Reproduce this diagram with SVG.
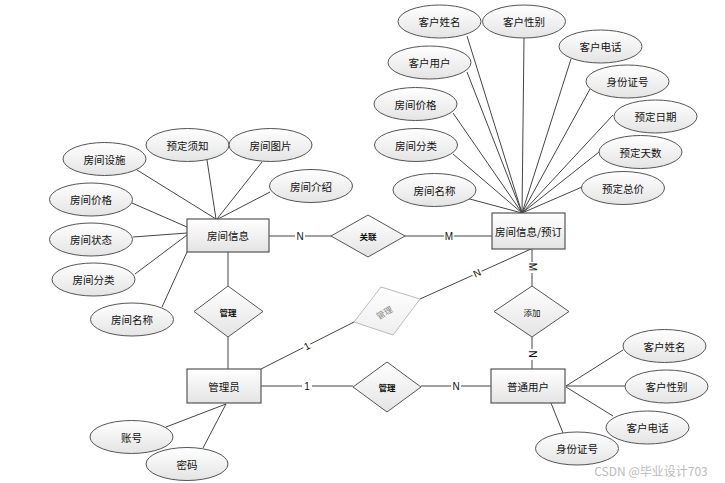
<svg xmlns="http://www.w3.org/2000/svg" width="725" height="483" viewBox="0 0 725 483">
<defs>
<linearGradient id="g" x1="0" y1="0" x2="0" y2="1">
<stop offset="0" stop-color="#ffffff"/>
<stop offset="1" stop-color="#e4e4e4"/>
</linearGradient>
<linearGradient id="gf" x1="0" y1="0" x2="0" y2="1">
<stop offset="0" stop-color="#ffffff"/>
<stop offset="1" stop-color="#eeeeee"/>
</linearGradient>
</defs>
<style>
.e{fill:url(#g);stroke:#555;stroke-width:1}
.r{fill:url(#g);stroke:#555;stroke-width:1.2}
.d{fill:url(#g);stroke:#555;stroke-width:1}
.t{font-family:"Noto Sans CJK SC","Liberation Sans",sans-serif;font-size:10.5px;fill:#111;text-anchor:middle;dominant-baseline:central}
.s{font-family:"Noto Sans CJK SC","Liberation Sans",sans-serif;font-size:8.5px;font-weight:bold;fill:#111;text-anchor:middle;dominant-baseline:central}
.l{stroke:#444;stroke-width:1;fill:none}
.lb{font-family:"Liberation Sans",sans-serif;font-size:10px;fill:#111;text-anchor:middle;dominant-baseline:central}
.bg{fill:#fff}
</style>
<rect width="725" height="483" fill="#fff"/>
<g id="connectors">
<line class="l" x1="137" y1="170" x2="216" y2="219"/>
<line class="l" x1="207" y1="160" x2="216" y2="219"/>
<line class="l" x1="262" y1="162" x2="217" y2="219"/>
<line class="l" x1="270" y1="192" x2="218" y2="219"/>
<line class="l" x1="132" y1="203" x2="187" y2="227"/>
<line class="l" x1="133" y1="237" x2="187" y2="233"/>
<line class="l" x1="135" y1="274" x2="187" y2="235"/>
<line class="l" x1="162" y1="307" x2="187" y2="252"/>
<line class="l" x1="467" y1="36" x2="522" y2="213"/>
<line class="l" x1="524" y1="38" x2="522" y2="213"/>
<line class="l" x1="571" y1="59" x2="522" y2="213"/>
<line class="l" x1="590" y1="89" x2="522" y2="213"/>
<line class="l" x1="613" y1="115" x2="522" y2="213"/>
<line class="l" x1="599" y1="152" x2="522" y2="213"/>
<line class="l" x1="582" y1="187" x2="522" y2="213"/>
<line class="l" x1="467" y1="72" x2="522" y2="213"/>
<line class="l" x1="453" y1="113" x2="522" y2="213"/>
<line class="l" x1="453" y1="154" x2="522" y2="213"/>
<line class="l" x1="466" y1="198" x2="522" y2="213"/>
<line class="l" x1="623" y1="350" x2="566" y2="386"/>
<line class="l" x1="625" y1="386" x2="566" y2="386"/>
<line class="l" x1="613" y1="416" x2="566" y2="387"/>
<line class="l" x1="563" y1="433" x2="551" y2="403"/>
<line class="l" x1="166" y1="427" x2="226" y2="404"/>
<line class="l" x1="203" y1="448" x2="226" y2="404"/>
<line class="l" x1="269" y1="236" x2="331" y2="236"/>
<line class="l" x1="405" y1="236" x2="492" y2="236"/>
<line class="l" x1="228" y1="252" x2="228" y2="286"/>
<line class="l" x1="228" y1="337" x2="228" y2="369"/>
<line class="l" x1="261" y1="369" x2="354" y2="322"/>
<line class="l" x1="420" y1="299" x2="531" y2="249"/>
<line class="l" x1="532" y1="249" x2="532" y2="286"/>
<line class="l" x1="532" y1="337" x2="532" y2="369"/>
<line class="l" x1="261" y1="386" x2="353" y2="386"/>
<line class="l" x1="421" y1="386" x2="491" y2="386"/>
<rect class="bg" x="295" y="230" width="10" height="12"/>
<text class="lb" x="300" y="236">N</text>
<rect class="bg" x="444" y="230" width="10" height="12"/>
<text class="lb" x="449" y="236">M</text>
<g transform="rotate(-27 307 346)"><rect class="bg" x="303" y="341" width="8" height="10"/><text class="lb" x="307" y="346">1</text></g>
<g transform="rotate(-25 477 273)"><rect class="bg" x="472" y="268" width="10" height="10"/><text class="lb" x="477" y="273">N</text></g>
<rect class="bg" x="527" y="262" width="10" height="11"/>
<text class="lb" x="532" y="267" transform="rotate(90 532 267)">M</text>
<rect class="bg" x="527" y="349" width="10" height="11"/>
<text class="lb" x="532" y="354" transform="rotate(90 532 354)">N</text>
<rect class="bg" x="302" y="380" width="10" height="12"/>
<text class="lb" x="307" y="386">1</text>
<rect class="bg" x="451" y="380" width="10" height="12"/>
<text class="lb" x="456" y="386">N</text>
</g>
<g id="fangjianxinxi"><rect class="r" x="187" y="219" width="82" height="33"/><text class="t" x="228" y="235.5">房间信息</text></g>
<g id="yuding"><rect class="r" x="492" y="213" width="73" height="36"/><text class="t" x="528.5" y="231">房间信息/预订</text></g>
<g id="guanliyuan"><rect class="r" x="187" y="369" width="74" height="34"/><text class="t" x="224" y="386">管理员</text></g>
<g id="putongyonghu"><rect class="r" x="491" y="369" width="74" height="34"/><text class="t" x="528" y="386">普通用户</text></g>
<g id="guanlian"><polygon class="d" points="368,215 405,236 368,257 331,236"/><text class="s" x="368" y="236">关联</text></g>
<g id="guanli1"><polygon class="d" points="228,286 263,311.5 228,337 194,311.5"/><text class="s" x="228" y="311.5">管理</text></g>
<g id="guanli2"><polygon points="381,287 420,299 393,335 354,322" fill="url(#gf)" stroke="#bbb" stroke-width="1"/><text class="s" x="384" y="312" style="fill:#888;font-weight:normal" transform="rotate(-30 384 312)">管理</text></g>
<g id="tianjia"><polygon class="d" points="532,286 569,311.5 532,337 494,311.5"/><text class="s" x="532" y="311.5" style="font-weight:normal">添加</text></g>
<g id="guanli3"><polygon class="d" points="387,362 421,387 387,412 353,387"/><text class="s" x="387" y="387">管理</text></g>
<g id="a1"><ellipse class="e" cx="104.5" cy="159" rx="41.5" ry="16.5"/><text class="t" x="104.5" y="159">房间设施</text></g>
<g id="a2"><ellipse class="e" cx="187.5" cy="145" rx="41.5" ry="16.5"/><text class="t" x="187.5" y="145">预定须知</text></g>
<g id="a3"><ellipse class="e" cx="270.5" cy="145" rx="41.5" ry="16.5"/><text class="t" x="270.5" y="145">房间图片</text></g>
<g id="a4"><ellipse class="e" cx="311" cy="186" rx="41.5" ry="16.5"/><text class="t" x="311" y="186">房间介绍</text></g>
<g id="a5"><ellipse class="e" cx="91" cy="199.5" rx="41.5" ry="16.5"/><text class="t" x="91" y="199.5">房间价格</text></g>
<g id="a6"><ellipse class="e" cx="91" cy="239.5" rx="41.5" ry="16.5"/><text class="t" x="91" y="239.5">房间状态</text></g>
<g id="a7"><ellipse class="e" cx="93.5" cy="279.5" rx="41.5" ry="16.5"/><text class="t" x="93.5" y="279.5">房间分类</text></g>
<g id="a8"><ellipse class="e" cx="132" cy="319.5" rx="41.5" ry="16.5"/><text class="t" x="132" y="319.5">房间名称</text></g>
<g id="b1"><ellipse class="e" cx="439.5" cy="21.5" rx="41.5" ry="16.5"/><text class="t" x="439.5" y="21.5">客户姓名</text></g>
<g id="b2"><ellipse class="e" cx="524" cy="21.5" rx="41.5" ry="16.5"/><text class="t" x="524" y="21.5">客户性别</text></g>
<g id="b3"><ellipse class="e" cx="600.5" cy="46.5" rx="41.5" ry="16.5"/><text class="t" x="600.5" y="46.5">客户电话</text></g>
<g id="b4"><ellipse class="e" cx="627.5" cy="81.5" rx="41.5" ry="16.5"/><text class="t" x="627.5" y="81.5">身份证号</text></g>
<g id="b5"><ellipse class="e" cx="655.5" cy="116.5" rx="41.5" ry="16.5"/><text class="t" x="655.5" y="116.5">预定日期</text></g>
<g id="b6"><ellipse class="e" cx="640.5" cy="152" rx="41.5" ry="16.5"/><text class="t" x="640.5" y="152">预定天数</text></g>
<g id="b7"><ellipse class="e" cx="623" cy="188" rx="41.5" ry="16.5"/><text class="t" x="623" y="188">预定总价</text></g>
<g id="b8"><ellipse class="e" cx="429.5" cy="62.5" rx="41.5" ry="16.5"/><text class="t" x="429.5" y="62.5">客户用户</text></g>
<g id="b9"><ellipse class="e" cx="415.5" cy="104" rx="41.5" ry="16.5"/><text class="t" x="415.5" y="104">房间价格</text></g>
<g id="b10"><ellipse class="e" cx="416" cy="145" rx="41.5" ry="16.5"/><text class="t" x="416" y="145">房间分类</text></g>
<g id="b11"><ellipse class="e" cx="434.5" cy="190" rx="41.5" ry="16.5"/><text class="t" x="434.5" y="190">房间名称</text></g>
<g id="c1"><ellipse class="e" cx="664.5" cy="346" rx="41.5" ry="16.5"/><text class="t" x="664.5" y="346">客户姓名</text></g>
<g id="c2"><ellipse class="e" cx="666.5" cy="386.5" rx="41.5" ry="16.5"/><text class="t" x="666.5" y="386.5">客户性别</text></g>
<g id="c3"><ellipse class="e" cx="647.5" cy="427.5" rx="41.5" ry="16.5"/><text class="t" x="647.5" y="427.5">客户电话</text></g>
<g id="c4"><ellipse class="e" cx="577" cy="448.5" rx="41.5" ry="16.5"/><text class="t" x="577" y="448.5">身份证号</text></g>
<g id="d1"><ellipse class="e" cx="131.5" cy="437" rx="41.5" ry="16.5"/><text class="t" x="131.5" y="437">账号</text></g>
<g id="d2"><ellipse class="e" cx="187" cy="464" rx="41" ry="16.5"/><text class="t" x="187" y="464">密码</text></g>
<text x="651" y="470" style="font-family:'Noto Sans CJK SC','Liberation Sans',sans-serif;font-size:12px;fill:#bbb;text-anchor:middle;dominant-baseline:central">CSDN @毕业设计703</text>
</svg>
